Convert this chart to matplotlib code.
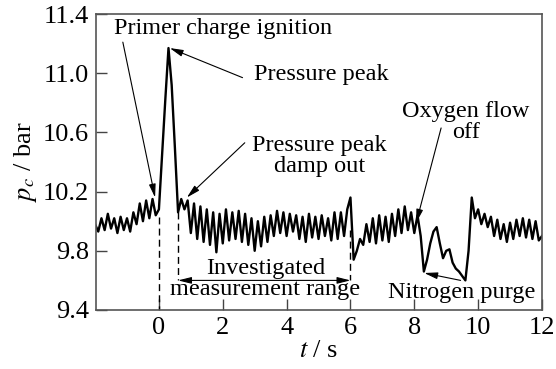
import numpy as np
import matplotlib.pyplot as plt

plt.rcParams['font.family'] = ['Liberation Serif', 'DejaVu Serif']
plt.rcParams['mathtext.fontset'] = 'stix'

# Chamber pressure trace, sampled every 0.1 s starting at t = -2 s
pc = [
    9.98, 9.93, 10.02, 9.94, 10.05, 9.95, 10.02, 9.92, 10.03, 9.94,     # -2.0 .. -1.1
    10.02, 9.93, 10.06, 9.98, 10.12, 10.00, 10.14, 10.02, 10.15, 10.04,  # -1.0 .. -0.1
    10.08, 10.45, 10.82, 11.17, 10.92, 10.50, 10.06, 10.15, 10.08, 10.14,  # 0.0 .. 0.9
    9.92, 10.12, 9.88, 10.10, 9.86, 10.08, 9.84, 10.06, 9.79, 10.05,    # 1.0 .. 1.9
    9.85, 10.08, 9.87, 10.06, 9.88, 10.07, 9.86, 10.05, 9.84, 10.02,    # 2.0 .. 2.9
    9.80, 10.00, 9.83, 10.03, 9.86, 10.04, 9.90, 10.07, 9.92, 10.06,    # 3.0 .. 3.9
    9.90, 10.05, 9.93, 10.04, 9.88, 10.03, 9.86, 10.05, 9.89, 10.03,    # 4.0 .. 4.9
    9.88, 10.04, 9.90, 10.02, 9.87, 10.06, 9.88, 10.06, 9.90, 10.08,    # 5.0 .. 5.9
    10.16, 9.74, 9.80, 9.88, 9.84, 9.98, 9.86, 10.02, 9.85, 10.04,      # 6.0 .. 6.9
    9.87, 10.03, 9.86, 10.05, 9.90, 10.08, 9.92, 10.10, 9.94, 10.06,    # 7.0 .. 7.9
    9.92, 10.04, 9.90, 9.66, 9.74, 9.85, 9.93, 9.96, 9.85, 9.75,        # 8.0 .. 8.9
    9.80, 9.81, 9.72, 9.68, 9.66, 9.63, 9.60, 9.80, 10.16, 10.02,       # 9.0 .. 9.9
    10.08, 9.98, 10.05, 9.96, 10.03, 9.90, 10.01, 9.88, 9.98, 9.86,     # 10.0 .. 10.9
    9.99, 9.88, 10.01, 9.90, 10.02, 9.89, 10.01, 9.88, 10.00, 9.87,     # 11.0 .. 11.9
    9.90,                                                              # 12.0
]
t = -2.0 + 0.1 * np.arange(len(pc))

xticks = [0, 2, 4, 6, 8, 10, 12]
yticks = [9.4, 9.8, 10.2, 10.6, 11.0, 11.4]

fig = plt.figure(figsize=(5.56, 3.69), dpi=100)
ax = fig.add_axes([0.1727, 0.1599, 0.8021, 0.8021])

ax.plot(t, pc, color='black', lw=1.7)

# boundaries of the ignition and measurement windows
dash = dict(color='black', lw=1.0, ls=(0, (5, 3)))
ax.plot([0, 0], [10.03, 9.4], **dash)
ax.plot([0.6, 0.6], [10.06, 9.6], **dash)
ax.plot([6, 6], [9.94, 9.6], **dash)

arr = dict(arrowstyle='-|>,head_length=0.8,head_width=0.2', color='black',
           lw=0.8, shrinkA=0, shrinkB=0)
fs = 17.5

ax.text(2.0, 11.30, 'Primer charge ignition', fontsize=fs, ha='center', va='center')
ax.annotate('', xy=(-0.12, 10.16), xytext=(-1.13, 11.21), arrowprops=arr)

ax.text(5.08, 10.99, 'Pressure peak', fontsize=fs, ha='center', va='center')
ax.annotate('', xy=(0.34, 11.17), xytext=(2.62, 10.97), arrowprops=arr)

ax.text(5.02, 10.44, 'Pressure peak\ndamp out', fontsize=fs, ha='center',
        va='center', linespacing=0.95)
ax.annotate('', xy=(0.875, 10.16), xytext=(2.69, 10.53), arrowprops=arr)

ax.text(9.62, 10.67, 'Oxygen flow\noff', fontsize=fs, ha='center',
        va='center', linespacing=0.95)
ax.annotate('', xy=(8.06, 9.99), xytext=(8.84, 10.63), arrowprops=arr)

ax.text(9.5, 9.52, 'Nitrogen purge', fontsize=fs, ha='center', va='center')
ax.annotate('', xy=(8.31, 9.65), xytext=(9.45, 9.60), arrowprops=arr)

ax.text(3.34, 9.61, 'Investigated\nmeasurement range', fontsize=fs,
        ha='center', va='center', linespacing=0.95)
ax.annotate('', xy=(0.6, 9.60), xytext=(6.0, 9.60),
            arrowprops=dict(arrowstyle='<|-|>,head_length=0.8,head_width=0.2',
                            color='black', lw=0.8, shrinkA=0, shrinkB=0))

ax.set_xlim(-1.97, 12)
ax.set_ylim(9.4, 11.4)
ax.set_xticks(xticks)
ax.set_yticks(yticks)
ax.set_yticklabels(['%.1f' % v for v in yticks])
ax.tick_params(direction='in', length=8, width=1.0, color='#444444',
               labelsize=19, pad=5)
for s in ax.spines.values():
    s.set_color('#555555')
    s.set_linewidth(1.2)

ax.set_xlabel(r'$t$ / s', fontsize=19, labelpad=1)
ax.set_ylabel(r'$p_c$ / bar', fontsize=19, labelpad=3)

fig.savefig('out.png', dpi=100)
